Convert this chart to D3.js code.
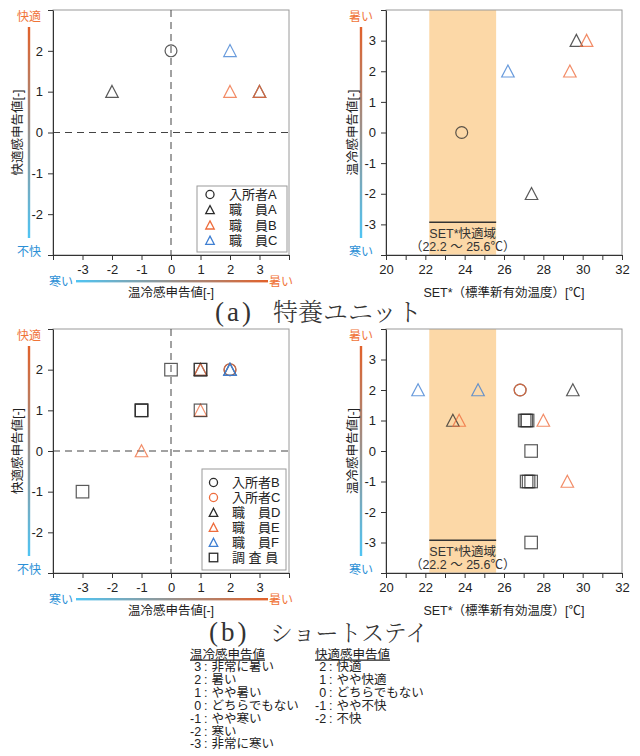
<!DOCTYPE html>
<html><head><meta charset="utf-8">
<script src="https://cdn.jsdelivr.net/npm/d3@7"></script>
<style>
body{margin:0;background:#fff}
svg{display:block}
text{font-family:"Liberation Sans","Noto Sans CJK JP",sans-serif}
</style>
</head><body>
<svg id="chart" width="640" height="756"></svg>
<script>
// ---- axis ticks ----
const thermalTicks = [-3, -2, -1, 0, 1, 2, 3];
const comfortTicks = [-2, -1, 0, 1, 2];
const setTicks = [20, 22, 24, 26, 28, 30, 32];
const setComfortZone = [22.2, 25.6];
const setZoneLabel = ["SET*快適域", "（22.2 ～ 25.6℃）"];

// ---- (a) 特養ユニット : SET*, 温冷感, 快適感 ----
const residentA = [{set: 23.85, thermal: 0, comfort: 2}];
const staffA = [{set: 27.4, thermal: -2, comfort: 1}, {set: 29.68, thermal: 3, comfort: 1}];
const staffB = [{set: 29.35, thermal: 2, comfort: 1}, {set: 30.2, thermal: 3, comfort: 1}];
const staffC = [{set: 26.2, thermal: 2, comfort: 2}];

// ---- (b) ショートステイ ----
const residentB = [{set: 26.82, thermal: 2, comfort: 2}];
const residentC = [{set: 26.82, thermal: 2, comfort: 2}];
const staffD = [{set: 23.4, thermal: 1, comfort: 2}, {set: 29.5, thermal: 2, comfort: 2}];
const staffE = [{set: 23.72, thermal: 1, comfort: 2}, {set: 28.0, thermal: 1, comfort: 1}, {set: 29.22, thermal: -1, comfort: 0}];
const staffF = [{set: 21.63, thermal: 2, comfort: 2}, {set: 24.68, thermal: 2, comfort: 2}];
const investigator = [
  {set: 27.05, thermal: 1, comfort: 2}, {set: 27.13, thermal: 1, comfort: 2}, {set: 27.2, thermal: 1, comfort: 1},
  {set: 27.38, thermal: 0, comfort: 2},
  {set: 27.15, thermal: -1, comfort: 1}, {set: 27.25, thermal: -1, comfort: 1}, {set: 27.38, thermal: -1, comfort: 1},
  {set: 27.38, thermal: -3, comfort: -1}
];

// ---- scale definitions under the figure ----
const thermalScaleKey = [["3", "非常に暑い"], ["2", "暑い"], ["1", "やや暑い"], ["0", "どちらでもない"], ["-1", "やや寒い"], ["-2", "寒い"], ["-3", "非常に寒い"]];
const comfortScaleKey = [["2", "快適"], ["1", "やや快適"], ["0", "どちらでもない"], ["-1", "やや不快"], ["-2", "不快"]];

const BLACK = "#2b2b2b", ORANGE = "#ee6c3c", BLUE = "#3f7fd2";
const HOT = "#f07438", COLD = "#2b8fd6";

const groupA = [
  {name: "入所者A", shape: "circle", color: BLACK, data: residentA},
  {name: "職　員A", shape: "triangle", color: BLACK, data: staffA},
  {name: "職　員B", shape: "triangle", color: ORANGE, data: staffB},
  {name: "職　員C", shape: "triangle", color: BLUE, data: staffC}
];
const groupB = [
  {name: "入所者B", shape: "circle", color: BLACK, data: residentB},
  {name: "入所者C", shape: "circle", color: ORANGE, data: residentC},
  {name: "職　員D", shape: "triangle", color: BLACK, data: staffD},
  {name: "職　員E", shape: "triangle", color: ORANGE, data: staffE},
  {name: "職　員F", shape: "triangle", color: BLUE, data: staffF},
  {name: "調 査 員", shape: "square", color: BLACK, data: investigator}
];

const svg = d3.select("#chart");
const defs = svg.append("defs");
const gv = defs.append("linearGradient").attr("id", "gradV").attr("x1", 0).attr("y1", 0).attr("x2", 0).attr("y2", 1);
gv.append("stop").attr("offset", 0).attr("stop-color", "#e2612a");
gv.append("stop").attr("offset", 1).attr("stop-color", "#4fc4f3");
const gh = defs.append("linearGradient").attr("id", "gradH").attr("x1", 0).attr("y1", 0).attr("x2", 1).attr("y2", 0);
gh.append("stop").attr("offset", 0).attr("stop-color", "#4fc4f3");
gh.append("stop").attr("offset", 1).attr("stop-color", "#e2612a");

function drawMarker(g, shape, color, cx, cy, s) {
  const h = s / 2;
  let el;
  if (shape === "circle") {
    el = g.append("circle").attr("cx", cx).attr("cy", cy).attr("r", h * 0.95);
  } else if (shape === "square") {
    el = g.append("rect").attr("x", cx - h).attr("y", cy - h).attr("width", s).attr("height", s);
  } else {
    el = g.append("path").attr("d", `M${cx},${cy - h}L${cx + h},${cy + h * 0.92}L${cx - h},${cy + h * 0.92}Z`);
  }
  el.attr("fill", "none").attr("stroke", color).attr("stroke-width", 1.2).attr("stroke-opacity", 0.78);
  return el;
}

function styleAxis(ax) {
  ax.select(".domain").attr("stroke", "#333");
  ax.selectAll(".tick line").attr("stroke", "#333");
  ax.selectAll(".tick text").attr("fill", "#222").style("font-size", "13px").style("font-family", "Liberation Sans, Arial, sans-serif");
}

function frame(g, x0, x1, y0, y1) {
  g.append("rect").attr("x", x0).attr("y", y0).attr("width", x1 - x0).attr("height", y1 - y0)
    .attr("fill", "none").attr("stroke", "#9a9a9a").attr("stroke-width", 1);
}

function verticalKey(g, cx, y0, y1, topText, bottomText) {
  g.append("rect").attr("x", cx - 1.2).attr("y", y0 + 17).attr("width", 2.4).attr("height", (y1 - y0) - 34).attr("fill", "url(#gradV)");
  g.append("text").attr("x", cx).attr("y", y0 + 11).attr("text-anchor", "middle").attr("fill", HOT).style("font-size", "12px").text(topText);
  g.append("text").attr("x", cx).attr("y", y1 + 1).attr("text-anchor", "middle").attr("fill", COLD).style("font-size", "12px").text(bottomText);
}

// Thermal sensation vs comfort sensation scatter
function comfortChart(top, bottom, groups, legend) {
  const g = svg.append("g");
  const x0 = 53, x1 = 289;
  const x = d3.scaleLinear().domain([-4, 4]).range([x0, x1]);
  const y = d3.scaleLinear().domain([-3, 3]).range([bottom, top]);
  frame(g, x0, x1, top, bottom);

  // zero reference lines
  g.append("line").attr("x1", x(0)).attr("x2", x(0)).attr("y1", top).attr("y2", bottom)
    .attr("stroke", "#444").attr("stroke-dasharray", "7,5");
  g.append("line").attr("x1", x0).attr("x2", x1).attr("y1", y(0)).attr("y2", y(0))
    .attr("stroke", "#444").attr("stroke-dasharray", "7,5");

  const ax = g.append("g").attr("transform", `translate(0,${bottom})`)
    .call(d3.axisBottom(x).tickValues(d3.range(-4, 5)).tickFormat(d => thermalTicks.includes(d) ? String(d) : "")
      .tickSize(5).tickSizeOuter(0).tickPadding(5));
  styleAxis(ax);
  const ay = g.append("g").attr("transform", `translate(${x0},0)`)
    .call(d3.axisLeft(y).tickValues(d3.range(-3, 4)).tickFormat(d => comfortTicks.includes(d) ? String(d) : "")
      .tickSize(5).tickSizeOuter(0).tickPadding(5));
  styleAxis(ay);

  groups.forEach(s => s.data.forEach(d => drawMarker(g, s.shape, s.color, x(d.thermal), y(d.comfort), 12.5)));

  // colour keys and titles
  verticalKey(g, 29, top, bottom, "快適", "不快");
  g.append("text").attr("transform", `translate(21.5,${(top + bottom) / 2}) rotate(-90)`).attr("text-anchor", "middle")
    .attr("fill", "#222").style("font-size", "12.5px").text("快適感申告値[-]");
  g.append("rect").attr("x", 76).attr("y", bottom + 25).attr("width", 192).attr("height", 2.4).attr("fill", "url(#gradH)");
  g.append("text").attr("x", 61).attr("y", bottom + 31).attr("text-anchor", "middle").attr("fill", COLD).style("font-size", "12px").text("寒い");
  g.append("text").attr("x", 281).attr("y", bottom + 31).attr("text-anchor", "middle").attr("fill", HOT).style("font-size", "12px").text("暑い");
  g.append("text").attr("x", x(0)).attr("y", bottom + 41.5).attr("text-anchor", "middle")
    .attr("fill", "#222").style("font-size", "12.5px").text("温冷感申告値[-]");

  // legend
  const lg = g.append("g");
  lg.append("rect").attr("x", legend.x).attr("y", legend.y).attr("width", legend.w).attr("height", legend.h)
    .attr("fill", "#fff").attr("stroke", "#9a9a9a");
  groups.forEach((s, i) => {
    const cy = legend.y + legend.first + i * legend.step;
    drawMarker(lg, s.shape, s.color, legend.x + legend.mx, cy, 8.5).attr("stroke-opacity", 1).attr("stroke-width", 1.3);
    lg.append("text").attr("x", legend.x + legend.tx).attr("y", cy + 4.6).attr("fill", "#222")
      .style("font-size", "13px").text(s.name);
  });
}

// SET* vs thermal sensation scatter
function setChart(top, bottom, groups) {
  const g = svg.append("g");
  const x0 = 386, x1 = 622;
  const x = d3.scaleLinear().domain([20, 32]).range([x0, x1]);
  const y = d3.scaleLinear().domain([-4, 4]).range([bottom, top]);

  g.append("rect").attr("x", x(setComfortZone[0])).attr("y", top).attr("width", x(setComfortZone[1]) - x(setComfortZone[0]))
    .attr("height", bottom - top).attr("fill", "#fcd8a7");
  frame(g, x0, x1, top, bottom);

  g.append("line").attr("x1", x(setComfortZone[0])).attr("x2", x(setComfortZone[1])).attr("y1", y(-2.93)).attr("y2", y(-2.93))
    .attr("stroke", "#333").attr("stroke-width", 1.5);
  const zx = (x(setComfortZone[0]) + x(setComfortZone[1])) / 2;
  g.append("text").attr("x", zx).attr("y", y(-2.93) + 16).attr("text-anchor", "middle").attr("fill", "#333")
    .style("font-size", "12.5px").text(setZoneLabel[0]);
  g.append("text").attr("x", zx).attr("y", y(-2.93) + 29).attr("text-anchor", "middle").attr("fill", "#333")
    .style("font-size", "12.5px").text(setZoneLabel[1]);

  const ax = g.append("g").attr("transform", `translate(0,${bottom})`)
    .call(d3.axisBottom(x).tickValues(d3.range(20, 33)).tickFormat(d => setTicks.includes(d) ? String(d) : "")
      .tickSize(5).tickSizeOuter(0).tickPadding(5));
  styleAxis(ax);
  const ay = g.append("g").attr("transform", `translate(${x0},0)`)
    .call(d3.axisLeft(y).tickValues(d3.range(-4, 5)).tickFormat(d => thermalTicks.includes(d) ? String(d) : "")
      .tickSize(5).tickSizeOuter(0).tickPadding(5));
  styleAxis(ay);

  groups.forEach(s => s.data.forEach(d => drawMarker(g, s.shape, s.color, x(d.set), y(d.thermal), 12.5)));

  verticalKey(g, 361, top, bottom, "暑い", "寒い");
  g.append("text").attr("transform", `translate(356.5,${(top + bottom) / 2}) rotate(-90)`).attr("text-anchor", "middle")
    .attr("fill", "#222").style("font-size", "12.5px").text("温冷感申告値[-]");
  g.append("text").attr("x", 504).attr("y", bottom + 41.5).attr("text-anchor", "middle")
    .attr("fill", "#222").style("font-size", "12.5px").text("SET*（標準新有効温度）[℃]");
}

comfortChart(10, 255, groupA, {x: 197, y: 186, w: 90, h: 66, first: 8.5, step: 15.3, mx: 13, tx: 32});
setChart(10, 255, groupA);
comfortChart(329, 573, groupB, {x: 202, y: 469, w: 84, h: 101, first: 13.5, step: 15, mx: 11.5, tx: 30});
setChart(329, 573, groupB);

// sub-figure captions
function caption(x, y, label, title, titleX, titleSize) {
  const t = svg.append("text").attr("x", x).attr("y", y).attr("fill", "#333");
  t.append("tspan").style("font-family", "Liberation Serif, DejaVu Serif, serif").style("font-size", "27px")
    .attr("letter-spacing", "3px").text(label);
  t.append("tspan").attr("x", titleX).style("font-family", "Noto Serif CJK JP, Noto Sans CJK JP, sans-serif")
    .style("font-size", titleSize + "px").style("font-weight", 300).text(title);
}
caption(215, 321, "(a)", "特養ユニット", 273, 25);
caption(209, 641, "(b)", "ショートステイ", 270, 23);

// scale definitions: one text block per column, one line per value
function scaleKey(x, head, rows) {
  const k = svg.append("text").attr("fill", "#222").style("font-size", "12.5px");
  k.append("tspan").attr("x", x).attr("y", 658.5).attr("text-decoration", "underline").text(head);
  rows.forEach((r, i) => {
    const yy = 671 + i * 12.9;
    const neg = r[0].startsWith("-");
    k.append("tspan").attr("x", x + (neg ? 0 : 4.2)).attr("y", yy).text(r[0]);
    k.append("tspan").attr("x", x + 14).attr("y", yy).text(":");
    k.append("tspan").attr("x", x + 21.5).attr("y", yy).text(r[1]);
  });
}
scaleKey(190, "温冷感申告値", thermalScaleKey);
scaleKey(315, "快適感申告値", comfortScaleKey);
</script>
</body></html>
